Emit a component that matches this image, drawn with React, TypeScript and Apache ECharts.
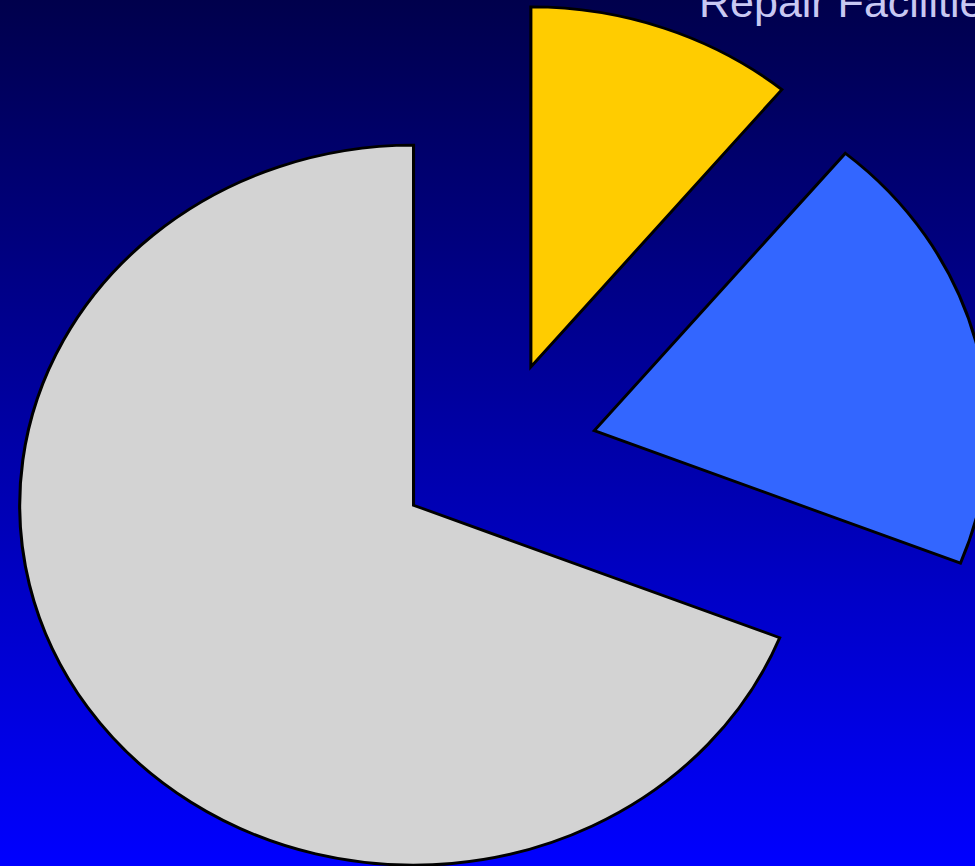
import React, { useEffect, useRef } from "react";
import * as echarts from "echarts";

// Slice data (clockwise from 12 o'clock)
const sliceNames = ["Repair Facilities", "Slice B", "Slice C"];
const sliceValues = [11, 20, 69];
const sliceColors = ["#FFCC00", "#3366FF", "#D3D3D3"];
const labelText = "Repair Facilities";

export default function App() {
  const ref = useRef<HTMLDivElement>(null);
  useEffect(() => {
    if (!ref.current) return;
    const chart = echarts.init(ref.current, undefined, { renderer: "svg" });
    const total = sliceValues.reduce((a, b) => a + b, 0);
    const cx = 497;
    const cy = 453.5;
    const r = 360;
    const sx = 394 / 360;
    const explode = 92;

    chart.setOption({
      animation: false,
      backgroundColor: {
        type: "linear",
        x: 0,
        y: 0,
        x2: 0,
        y2: 1,
        colorStops: [
          { offset: 0, color: "#00004C" },
          { offset: 1, color: "#0000FF" },
        ],
      },
      graphic: [
        {
          type: "text",
          z: 10,
          style: {
            x: 699,
            y: 2,
            text: labelText,
            font: '43px "Liberation Sans", Arial, sans-serif',
            fill: "#C8C8F2",
            align: "left",
            verticalAlign: "middle",
          },
        },
      ],
      series: [
        {
          type: "custom",
          coordinateSystem: "none",
          data: sliceValues.map((v, i) => ({ value: v, name: sliceNames[i] })),
          renderItem: (params: any, api: any) => {
            const idx = params.dataIndex;
            let before = 0;
            for (let k = 0; k < idx; k++) before += sliceValues[k];
            const v = api.value(0);
            const start = -Math.PI / 2 + (before / total) * Math.PI * 2;
            const end = start + (v / total) * Math.PI * 2;
            const mid = (start + end) / 2;
            const ox = cx + explode * Math.cos(mid);
            const oy = cy + explode * Math.sin(mid);
            return {
              type: "sector",
              originX: cx,
              originY: cy,
              scaleX: sx,
              scaleY: 1,
              shape: {
                cx: ox,
                cy: oy,
                r: r,
                r0: 0,
                startAngle: start,
                endAngle: end,
                clockwise: true,
              },
              style: {
                fill: sliceColors[idx],
                stroke: "#000000",
                lineWidth: 2.8,
                lineJoin: "miter",
              },
            };
          },
        },
      ],
    });
    return () => chart.dispose();
  }, []);
  return (
    <div
      ref={ref}
      style={{ position: "fixed", left: 0, top: 0, width: 975, height: 866 }}
    />
  );
}
